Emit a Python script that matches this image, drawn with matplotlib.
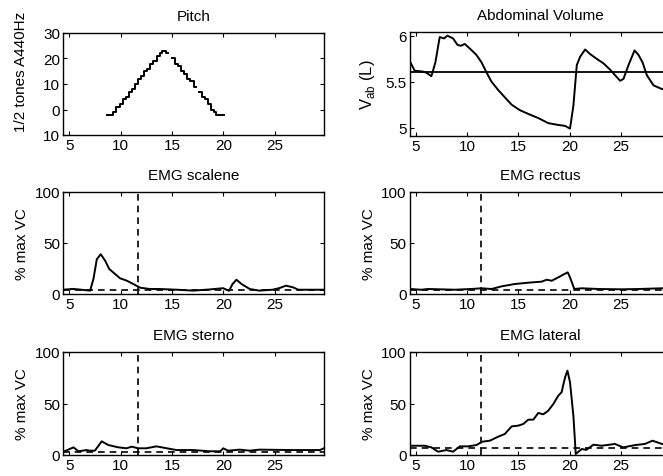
import numpy as np
import matplotlib
matplotlib.use("Agg")
import matplotlib.pyplot as plt

plt.rcParams['font.family'] = ['Liberation Sans', 'DejaVu Sans']
plt.rcParams['font.size'] = 10

nan = np.nan

# ---------------- data ----------------
pitch_t = [8.7, 9.3, 9.6, 9.9, 10.2, 10.5, 10.8, 11.1, 11.4, 11.7, 12.0, 12.3, 12.6, 12.9,
           13.2, 13.5, 13.8, 14.0, 14.4, 14.6, 15.0, 15.3, 15.6, 15.9, 16.2, 16.5, 16.8,
           17.1, 17.3, 17.6, 17.9, 18.2, 18.5, 18.8, 19.1, 19.3, 20.1]
pitch_v = [-2, -1, 1, 2, 4, 5, 7, 8, 10, 12, 13, 15, 16, 18,
           19, 21, 22, 23, 22, nan, 20, 18, 17, 15, 14, 12, 11,
           9, nan, 7, 5, 4, 2, 0, -1, -2, -2]

vab_t = [4.35, 4.9, 5.7, 6.0, 6.53, 6.92, 7.34, 7.76, 8.09, 8.64, 9.07, 9.4, 9.78, 10.27,
         10.92, 11.41, 11.9, 12.38, 13.03, 13.68, 14.34, 15.15, 15.96, 16.93, 17.9, 18.88,
         19.54, 20.02, 20.35, 20.68, 21.0, 21.49, 21.98, 22.6, 23.27, 23.93, 24.41, 24.9,
         25.22, 25.71, 26.3, 26.69, 27.08, 27.5, 28.15, 28.97, 29.8]
vab_v = [5.74, 5.62, 5.61, 5.60, 5.56, 5.71, 5.985, 5.97, 6.0, 5.97, 5.90, 5.89, 5.91, 5.86,
         5.79, 5.71, 5.60, 5.50, 5.41, 5.33, 5.25, 5.19, 5.15, 5.105, 5.05, 5.03,
         5.02, 4.99, 5.24, 5.68, 5.77, 5.85, 5.80, 5.75, 5.70, 5.63, 5.57, 5.51,
         5.53, 5.68, 5.84, 5.79, 5.71, 5.57, 5.46, 5.42, 5.41]
vab_ref = 5.6

scal_t = [4.4, 5.4, 7.04, 7.36, 7.69, 8.07, 8.5, 8.9, 9.47, 9.95, 10.6, 11.24, 11.9, 12.86,
          13.8, 15.46, 17.07, 18.7, 19.98, 20.56, 20.9, 21.28, 21.77, 22.57, 23.5, 24.8,
          25.5, 26.1, 26.8, 27.3, 28.7, 29.85]
scal_v = [4.2, 5.0, 3.3, 14.7, 34.0, 39.0, 32.7, 24.5, 19.6, 15.4, 13.1, 9.8, 6.2, 4.9,
          4.9, 4.2, 3.3, 4.5, 5.7, 3.1, 9.8, 14.0, 9.8, 4.9, 3.3, 4.2,
          5.9, 8.2, 6.5, 4.2, 4.2, 4.2]

rect_t = [4.4, 5.55, 6.2, 8.8, 10.4, 11.4, 12.38, 13.36, 14.66, 15.96, 17.26, 17.75, 18.24,
          18.88, 19.47, 19.8, 20.02, 20.44, 21.16, 22.8, 25.07, 26.7, 28.97, 29.8]
rect_v = [4.9, 4.2, 4.9, 4.2, 4.9, 5.6, 4.9, 7.5, 9.8, 11.1, 12.1, 14.0, 13.0,
          16.3, 19.6, 21.2, 16.3, 4.9, 5.6, 4.9, 4.6, 4.9, 5.6, 5.3]

ster_t = [4.45, 5.42, 5.9, 6.7, 7.0, 7.5, 8.17, 8.8, 9.8, 10.6, 11.08, 11.73, 12.5, 13.5,
          14.5, 15.46, 17.07, 18.7, 19.7, 20.0, 20.47, 21.6, 22.57, 23.5, 26.8, 29.4, 29.85]
ster_v = [3.2, 7.4, 3.6, 4.8, 4.2, 4.2, 13.3, 9.7, 7.4, 6.5, 8.1, 6.5, 6.5, 8.4,
          6.5, 4.8, 4.8, 3.6, 3.6, 6.5, 4.2, 5.2, 4.2, 5.2, 4.8, 4.8, 6.8]

lat_t = [4.4, 5.88, 6.53, 7.18, 8.0, 8.64, 9.3, 10.1, 10.92, 11.47, 12.22, 13.03, 13.68,
         14.34, 14.98, 15.47, 15.96, 16.45, 16.93, 17.42, 17.9, 18.4, 18.88, 19.2, 19.54,
         19.77, 20.02, 20.35, 20.58, 21.16, 21.6, 22.3, 23.1, 24.4, 25.2, 26.4, 27.3,
         28.05, 28.97, 29.8]
lat_v = [9.0, 9.0, 7.4, 3.2, 4.8, 3.2, 8.4, 8.4, 9.7, 12.9, 13.9, 17.8, 20.4,
         27.8, 28.5, 30.1, 34.3, 34.3, 40.8, 39.5, 43.0, 49.5, 57.6, 60.9, 75.4,
         81.9, 70.6, 38.0, 1.0, 5.8, 5.0, 10.0, 9.0, 10.7, 7.4, 9.7, 10.7,
         13.9, 10.7, 9.5]

emg_panels = [
    ("EMG scalene", scal_t, scal_v, 3.5, 11.7),
    ("EMG rectus", rect_t, rect_v, 4.0, 11.4),
    ("EMG sterno", ster_t, ster_v, 3.0, 11.7),
    ("EMG lateral", lat_t, lat_v, 7.0, 11.4),
]

xticks = [5, 10, 15, 20, 25]
xlim = (4.4, 29.8)

# ---------------- layout ----------------
W, H = 663, 477
fig = plt.figure(figsize=(W / 100, H / 100), dpi=100)

def make_ax(left_px, top_px, w_px, h_px):
    return fig.add_axes([left_px / W, 1 - (top_px + h_px) / H, w_px / W, h_px / H])

def style(ax):
    ax.tick_params(direction='in', top=True, right=True, length=3, width=0.8,
                   labelsize=11, pad=2)
    for s in ax.spines.values():
        s.set_linewidth(1.0)
    ax.set_xlim(*xlim)
    ax.set_xticks(xticks)

LW = 1.4
TFS = 11

# Pitch
ax = make_ax(63, 34, 261, 102)
ax.plot(pitch_t, pitch_v, color='k', lw=LW, drawstyle='steps-post')
ax.set_ylim(-10, 30)
ax.set_yticks([-10, 0, 10, 20, 30])
ax.set_yticklabels(['10', '0', '10', '20', '30'])
style(ax)
ax.set_title('Pitch', fontsize=TFS, pad=9)
ax.set_ylabel('1/2 tones A440Hz', fontsize=11)
ax.yaxis.set_label_coords(-0.134, 0.63)

# Abdominal volume
ax = make_ax(409.5, 33, 261, 104)
ax.plot(vab_t, vab_v, color='k', lw=LW)
ax.axhline(vab_ref, color='k', lw=1.3)
ax.set_ylim(4.91, 6.04)
ax.set_yticks([5, 5.5, 6])
ax.set_yticklabels(['5', '5.5', '6'])
style(ax)
ax.set_title('Abdominal Volume', fontsize=TFS, pad=9)
ax.set_ylabel(r'V$_{\mathregular{ab}}$ (L)', fontsize=12)
ax.yaxis.set_label_coords(-0.125, 0.5)

# EMG panels
pos = [(63, 193, 261, 102), (409.5, 193, 261, 102), (63, 353, 261, 103), (409.5, 353, 261, 103)]
for (title, t, v, base, onset), (l, tp, w, h) in zip(emg_panels, pos):
    ax = make_ax(l, tp, w, h)
    ax.plot(t, v, color='k', lw=LW)
    ax.axhline(base, color='k', lw=1.2, ls=(0, (4, 3)))
    ax.axvline(onset, color='k', lw=1.2, ls=(0, (4, 3)))
    ax.set_ylim(0, 100)
    ax.set_yticks([0, 50, 100])
    style(ax)
    ax.set_title(title, fontsize=TFS, pad=9)
    ax.set_ylabel('% max VC', fontsize=11)
    ax.yaxis.set_label_coords(-0.13 if l < 300 else -0.128, 0.5)

fig.savefig('out.png', dpi=100)
